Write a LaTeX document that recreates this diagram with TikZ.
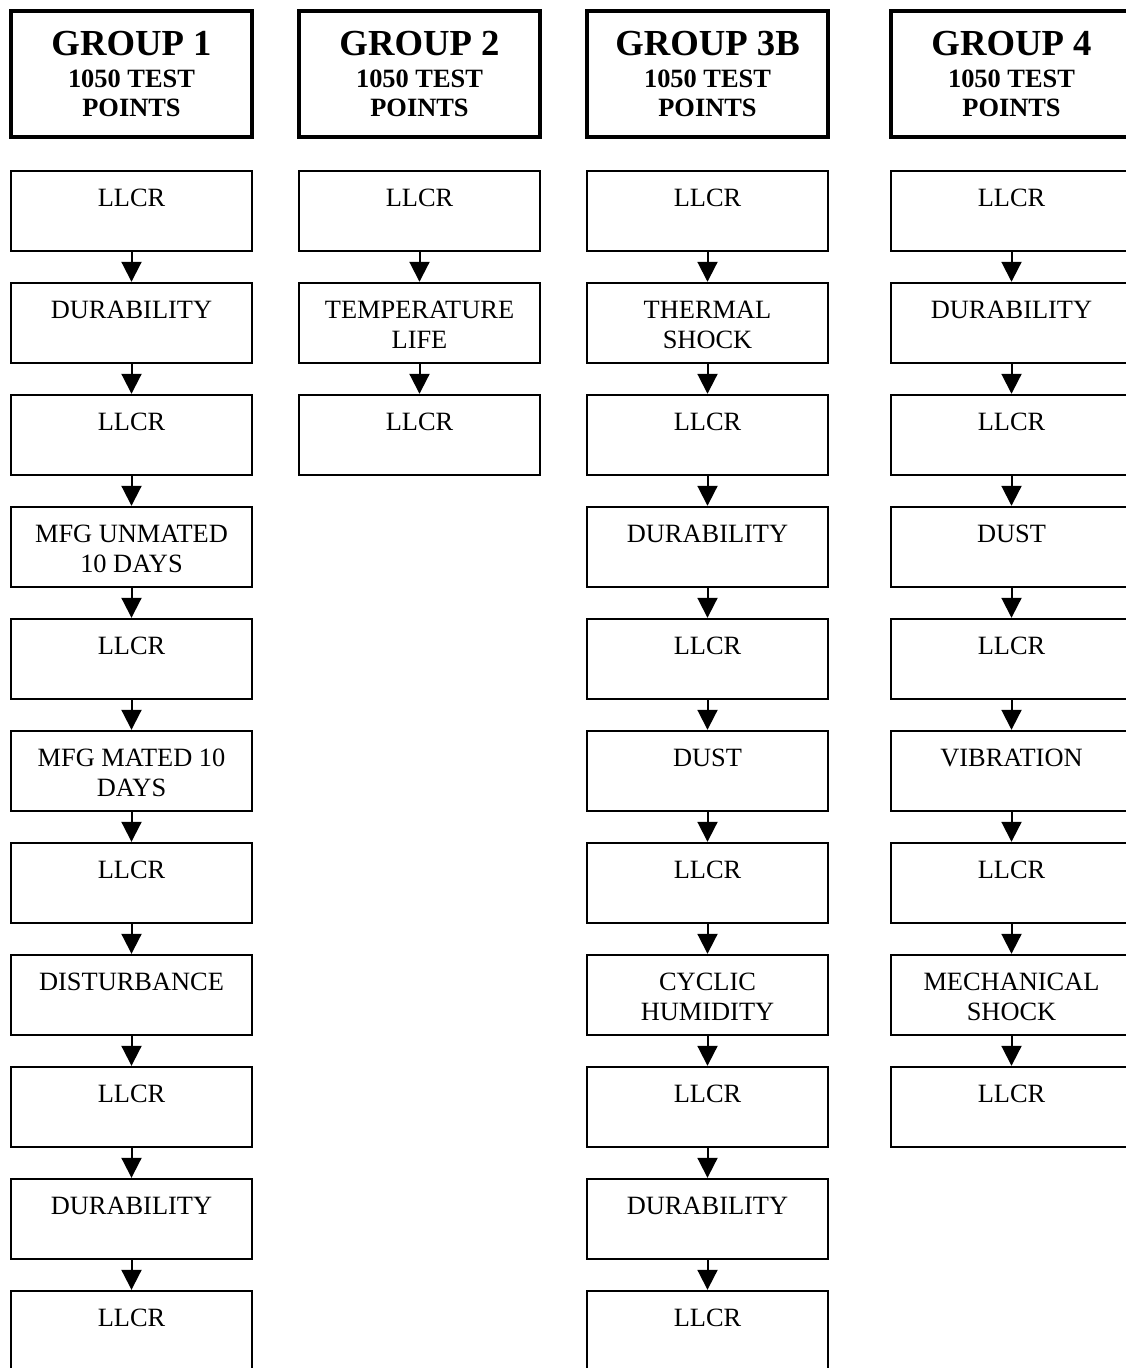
\documentclass[tikz,border=0pt]{standalone}
\usepackage{fontspec}
\setmainfont{Liberation Serif}
\usepackage{tikz}
\usetikzlibrary{arrows.meta,positioning}
\newcommand{\boxlabel}[1]{\parbox[c][40pt][t]{118pt}{\centering\rule{0pt}{17.75pt}#1}}

\begin{document}
\begin{tikzpicture}[x=0.5pt,y=-0.5pt,
  grpbox/.style={draw,line width=1.75pt,minimum width=120.5pt,minimum height=63pt,inner sep=0pt,align=center,font=\bfseries\fontsize{13.2}{14.5}\selectfont},
  stepbox/.style={draw,line width=1.2pt,minimum width=120.5pt,minimum height=40pt,inner sep=0pt,font=\fontsize{13.2}{15}\selectfont},
  flow/.style={-{Triangle[width=10pt,length=10pt]},line width=1pt}]
\useasboundingbox (0,0) rectangle (1125,1368);

\node[grpbox] (grp1) at (131.5,74) {{\fontsize{18.35}{20}\selectfont GROUP 1}\\[1.5pt]1050 TEST\\POINTS};
\node[grpbox] (grp2) at (419.5,74) {{\fontsize{18.35}{20}\selectfont GROUP 2}\\[1.5pt]1050 TEST\\POINTS};
\node[grpbox] (grp3) at (707.5,74) {{\fontsize{18.35}{20}\selectfont GROUP 3B}\\[1.5pt]1050 TEST\\POINTS};
\node[grpbox] (grp4) at (1011.5,74) {{\fontsize{18.35}{20}\selectfont GROUP 4}\\[1.5pt]1050 TEST\\POINTS};

\node[stepbox] (a1) at (131.5,211) {\boxlabel{LLCR}};
\node[stepbox] (a2) at (131.5,323) {\boxlabel{DURABILITY}};
\node[stepbox] (a3) at (131.5,435) {\boxlabel{LLCR}};
\node[stepbox] (a4) at (131.5,547) {\boxlabel{MFG UNMATED\\10 DAYS}};
\node[stepbox] (a5) at (131.5,659) {\boxlabel{LLCR}};
\node[stepbox] (a6) at (131.5,771) {\boxlabel{MFG MATED 10\\DAYS}};
\node[stepbox] (a7) at (131.5,883) {\boxlabel{LLCR}};
\node[stepbox] (a8) at (131.5,995) {\boxlabel{DISTURBANCE}};
\node[stepbox] (a9) at (131.5,1107) {\boxlabel{LLCR}};
\node[stepbox] (a10) at (131.5,1219) {\boxlabel{DURABILITY}};
\node[stepbox] (a11) at (131.5,1331) {\boxlabel{LLCR}};

\node[stepbox] (b1) at (419.5,211) {\boxlabel{LLCR}};
\node[stepbox] (b2) at (419.5,323) {\boxlabel{TEMPERATURE\\LIFE}};
\node[stepbox] (b3) at (419.5,435) {\boxlabel{LLCR}};

\node[stepbox] (c1) at (707.5,211) {\boxlabel{LLCR}};
\node[stepbox] (c2) at (707.5,323) {\boxlabel{THERMAL\\SHOCK}};
\node[stepbox] (c3) at (707.5,435) {\boxlabel{LLCR}};
\node[stepbox] (c4) at (707.5,547) {\boxlabel{DURABILITY}};
\node[stepbox] (c5) at (707.5,659) {\boxlabel{LLCR}};
\node[stepbox] (c6) at (707.5,771) {\boxlabel{DUST}};
\node[stepbox] (c7) at (707.5,883) {\boxlabel{LLCR}};
\node[stepbox] (c8) at (707.5,995) {\boxlabel{CYCLIC\\HUMIDITY}};
\node[stepbox] (c9) at (707.5,1107) {\boxlabel{LLCR}};
\node[stepbox] (c10) at (707.5,1219) {\boxlabel{DURABILITY}};
\node[stepbox] (c11) at (707.5,1331) {\boxlabel{LLCR}};

\node[stepbox] (d1) at (1011.5,211) {\boxlabel{LLCR}};
\node[stepbox] (d2) at (1011.5,323) {\boxlabel{DURABILITY}};
\node[stepbox] (d3) at (1011.5,435) {\boxlabel{LLCR}};
\node[stepbox] (d4) at (1011.5,547) {\boxlabel{DUST}};
\node[stepbox] (d5) at (1011.5,659) {\boxlabel{LLCR}};
\node[stepbox] (d6) at (1011.5,771) {\boxlabel{VIBRATION}};
\node[stepbox] (d7) at (1011.5,883) {\boxlabel{LLCR}};
\node[stepbox] (d8) at (1011.5,995) {\boxlabel{MECHANICAL\\SHOCK}};
\node[stepbox] (d9) at (1011.5,1107) {\boxlabel{LLCR}};

\foreach \i [count=\j from 2] in {1,...,10} \draw[flow] (a\i.south) -- (a\j.north);
\foreach \i [count=\j from 2] in {1,2} \draw[flow] (b\i.south) -- (b\j.north);
\foreach \i [count=\j from 2] in {1,...,10} \draw[flow] (c\i.south) -- (c\j.north);
\foreach \i [count=\j from 2] in {1,...,8} \draw[flow] (d\i.south) -- (d\j.north);
\end{tikzpicture}
\end{document}
